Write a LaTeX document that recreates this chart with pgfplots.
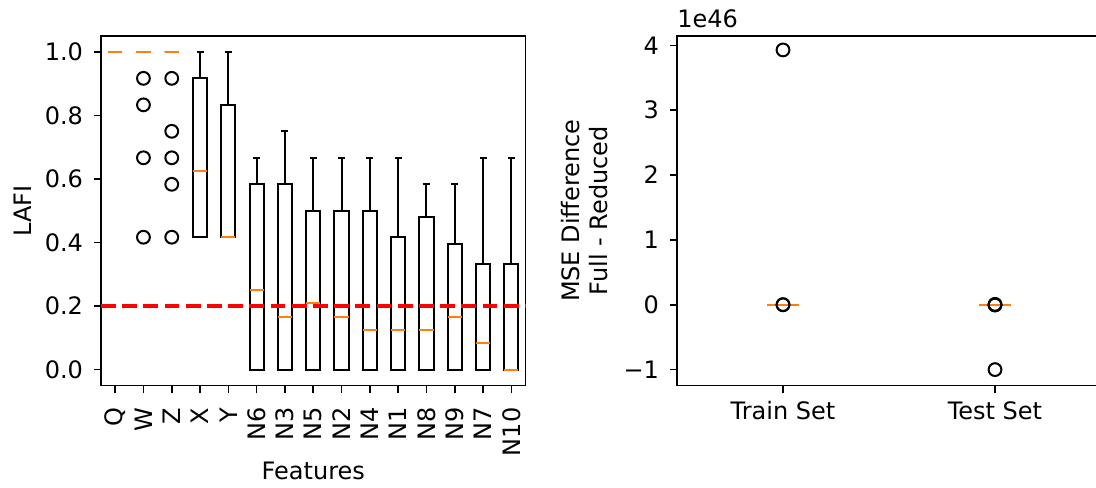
\documentclass[border=0pt]{standalone}
\usepackage{pgfplots}
\pgfplotsset{compat=1.18}
\usepgfplotslibrary{statistics}
\usepackage{fontspec}
\setmainfont{DejaVu Sans}
\definecolor{mplorange}{HTML}{FF7F0E}
\begin{document}
\begin{tikzpicture}
\path[use as bounding box] (0pt,0pt) rectangle (548pt,243.5pt);
\pgfplotsset{
  mpl/.style={
    scale only axis,
    height=174.75pt,
    axis line style={line width=0.8pt},
    tick align=outside,
    major tick length=3.5pt,
    every tick/.style={black, line width=0.8pt},
    xtick pos=bottom, ytick pos=left,
    tick label style={font=\fontsize{12}{14}\selectfont},
    label style={font=\fontsize{12}{14}\selectfont},
    yticklabel shift=2pt,
    boxplot/draw direction=y,
    boxplot/box extend=0.5,
    boxplot/whisker extend=0.25,
    boxplot/every median/.style={draw=mplorange, line width=1pt, solid},
    /pgf/number format/assume math mode=true,
    clip=false,
  },
  bx/.style={black, line width=1pt, solid, mark=o, mark size=3.2pt, mark options={draw=black, solid, line width=1pt, fill=none}},
  deg/.style={draw=none, mark=o, mark size=3.2pt, mark options={draw=black, solid, line width=1pt, fill=none}},
}
\begin{axis}[mpl, at={(50.5pt,50.75pt)}, anchor=south west, width=212.25pt,
  xmin=0.5, xmax=15.5, ymin=-0.05, ymax=1.05,
  xtick={1,...,15}, xticklabels={Q,W,Z,X,Y,N6,N3,N5,N2,N4,N1,N8,N9,N7,N10},
  xticklabel style={rotate=90, anchor=east},
  xticklabel shift=4pt,
  ytick={0,0.2,0.4,0.6,0.8,1.0}, yticklabels={0.0,0.2,0.4,0.6,0.8,1.0},
  xlabel={Features}, xlabel style={yshift=4pt}, ylabel={LAFI}]
\addplot[deg, boxplot prepared={draw position=1, median=1, lower quartile=1, upper quartile=1, lower whisker=1, upper whisker=1}] coordinates {};
\addplot[deg, boxplot prepared={draw position=2, median=1, lower quartile=1, upper quartile=1, lower whisker=1, upper whisker=1}] table[row sep=\\, y index=0] {data\\0.9167\\0.8333\\0.6667\\0.4167\\};
\addplot[deg, boxplot prepared={draw position=3, median=1, lower quartile=1, upper quartile=1, lower whisker=1, upper whisker=1}] table[row sep=\\, y index=0] {data\\0.9167\\0.75\\0.6667\\0.5833\\0.4167\\};
\addplot[bx, boxplot prepared={draw position=4, median=0.625, lower quartile=0.4167, upper quartile=0.9167, lower whisker=0.4167, upper whisker=1}] coordinates {};
\addplot[bx, boxplot prepared={draw position=5, median=0.4167, lower quartile=0.4167, upper quartile=0.8333, lower whisker=0.4167, upper whisker=1}] coordinates {};
\addplot[bx, boxplot prepared={draw position=6, median=0.25, lower quartile=0, upper quartile=0.5833, lower whisker=0, upper whisker=0.6667}] coordinates {};
\addplot[bx, boxplot prepared={draw position=7, median=0.1667, lower quartile=0, upper quartile=0.5833, lower whisker=0, upper whisker=0.75}] coordinates {};
\addplot[bx, boxplot prepared={draw position=8, median=0.2083, lower quartile=0, upper quartile=0.5, lower whisker=0, upper whisker=0.6667}] coordinates {};
\addplot[bx, boxplot prepared={draw position=9, median=0.1667, lower quartile=0, upper quartile=0.5, lower whisker=0, upper whisker=0.6667}] coordinates {};
\addplot[bx, boxplot prepared={draw position=10, median=0.125, lower quartile=0, upper quartile=0.5, lower whisker=0, upper whisker=0.6667}] coordinates {};
\addplot[bx, boxplot prepared={draw position=11, median=0.125, lower quartile=0, upper quartile=0.4167, lower whisker=0, upper whisker=0.6667}] coordinates {};
\addplot[bx, boxplot prepared={draw position=12, median=0.125, lower quartile=0, upper quartile=0.4792, lower whisker=0, upper whisker=0.5833}] coordinates {};
\addplot[bx, boxplot prepared={draw position=13, median=0.1667, lower quartile=0, upper quartile=0.3958, lower whisker=0, upper whisker=0.5833}] coordinates {};
\addplot[bx, boxplot prepared={draw position=14, median=0.0833, lower quartile=0, upper quartile=0.3333, lower whisker=0, upper whisker=0.6667}] coordinates {};
\addplot[bx, boxplot prepared={draw position=15, median=0, lower quartile=0, upper quartile=0.3333, lower whisker=0, upper whisker=0.6667}] coordinates {};
\addplot[red, line width=2pt, dash pattern=on 7.4pt off 3.2pt] coordinates {(0.5,0.2) (15.5,0.2)};
\end{axis}
\begin{axis}[mpl, at={(338.5pt,50.75pt)}, anchor=south west, width=212pt,
  xmin=0.5, xmax=2.5, ymin=-1.245, ymax=4.145,
  boxplot/box extend=0.15, boxplot/whisker extend=0.075,
  xtick={1,2}, xticklabels={Train Set,Test Set},
  xticklabel shift=1pt,
  ytick={-1,0,1,2,3,4}, yticklabels={−1,0,1,2,3,4},
  ylabel={MSE Difference\\Full - Reduced}, ylabel style={align=center, yshift=1pt}]
\addplot[deg, boxplot prepared={draw position=1, median=0, lower quartile=0, upper quartile=0, lower whisker=0, upper whisker=0}] table[row sep=\\, y index=0] {data\\3.93\\0\\0.002\\};
\addplot[deg, boxplot prepared={draw position=2, median=0, lower quartile=0, upper quartile=0, lower whisker=0, upper whisker=0}] table[row sep=\\, y index=0] {data\\-1.0\\0\\0.006\\-0.004\\};
\node[anchor=south west, inner sep=0pt, font=\fontsize{12}{14}\selectfont, yshift=4pt] at (rel axis cs:0,1) {1e46};
\end{axis}
\end{tikzpicture}
\end{document}
